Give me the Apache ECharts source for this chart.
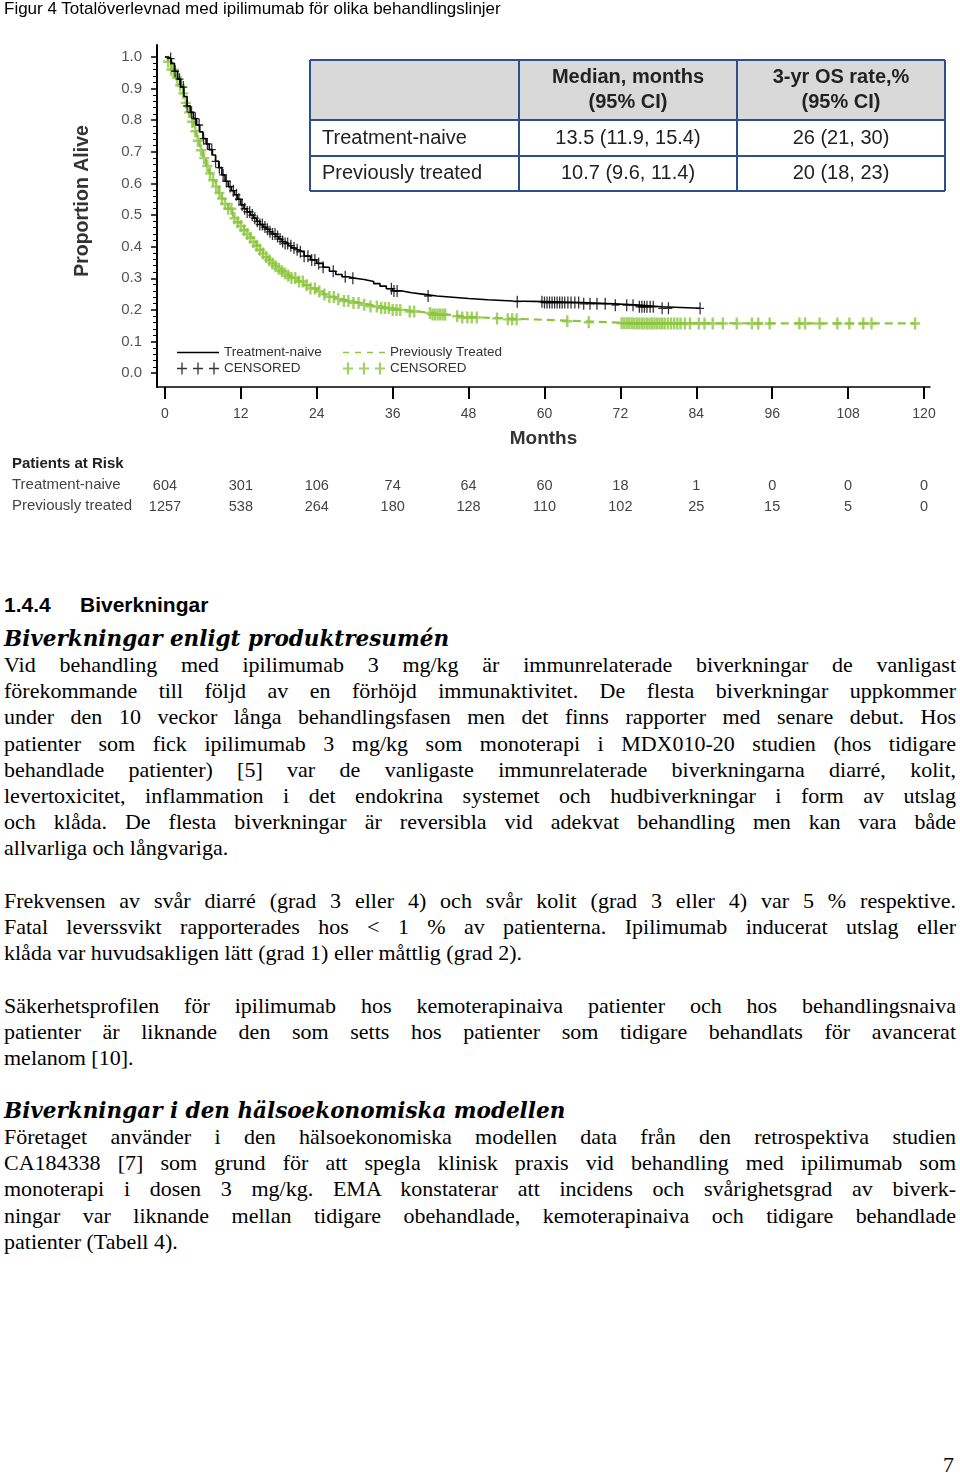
<!DOCTYPE html>
<html><head><meta charset="utf-8">
<script src="https://cdn.jsdelivr.net/npm/echarts@6/dist/echarts.min.js"></script>
<style>
html,body{margin:0;padding:0;background:#fff;}
body{width:960px;height:1476px;position:relative;overflow:hidden;}
#chart{position:absolute;left:0;top:0;width:960px;height:530px;}
.cap{position:absolute;left:4px;top:0px;font-family:'Liberation Sans',Arial,sans-serif;font-size:17px;line-height:18px;color:#000;}
.h3{position:absolute;left:4px;top:592px;font-family:'Liberation Sans',Arial,sans-serif;font-weight:bold;font-size:21px;line-height:26px;color:#000;}
.h3 span{display:inline-block;}
.body{position:absolute;left:4px;top:625.7px;width:952px;font-family:'Liberation Serif','Times New Roman',serif;font-size:22px;line-height:26.23px;color:#000;}
.body div{height:26.23px;}
.j{text-align:justify;text-align-last:justify;}
.hi{font-family:'DejaVu Serif',serif;font-weight:bold;font-style:italic;font-size:21.5px;}
.pg{position:absolute;left:943px;top:1452px;font-family:'Liberation Serif',serif;font-size:22px;line-height:26px;}
</style>
</head><body>
<div id="chart"></div>
<div class="cap">Figur 4 Totalöverlevnad med ipilimumab för olika behandlingslinjer</div>
<div class="h3"><span style="width:76px">1.4.4</span><span>Biverkningar</span></div>
<div class="body">
<div class="hi">Biverkningar enligt produktresumén</div>
<div class="j">Vid behandling med ipilimumab 3 mg/kg är immunrelaterade biverkningar de vanligast</div>
<div class="j">förekommande till följd av en förhöjd immunaktivitet. De flesta biverkningar uppkommer</div>
<div class="j">under den 10 veckor långa behandlingsfasen men det finns rapporter med senare debut. Hos</div>
<div class="j">patienter som fick ipilimumab 3 mg/kg som monoterapi i MDX010-20 studien (hos tidigare</div>
<div class="j">behandlade patienter) [5] var de vanligaste immunrelaterade biverkningarna diarré, kolit,</div>
<div class="j">levertoxicitet, inflammation i det endokrina systemet och hudbiverkningar i form av utslag</div>
<div class="j">och klåda. De flesta biverkningar är reversibla vid adekvat behandling men kan vara både</div>
<div>allvarliga och långvariga.</div>
<div></div>
<div class="j">Frekvensen av svår diarré (grad 3 eller 4) och svår kolit (grad 3 eller 4) var 5 % respektive.</div>
<div class="j">Fatal leverssvikt rapporterades hos &lt; 1 % av patienterna. Ipilimumab inducerat utslag eller</div>
<div>klåda var huvudsakligen lätt (grad 1) eller måttlig (grad 2).</div>
<div></div>
<div class="j">Säkerhetsprofilen för ipilimumab hos kemoterapinaiva patienter och hos behandlingsnaiva</div>
<div class="j">patienter är liknande den som setts hos patienter som tidigare behandlats för avancerat</div>
<div>melanom [10].</div>
<div></div>
<div class="hi">Biverkningar i den hälsoekonomiska modellen</div>
<div class="j">Företaget använder i den hälsoekonomiska modellen data från den retrospektiva studien</div>
<div class="j">CA184338 [7] som grund för att spegla klinisk praxis vid behandling med ipilimumab som</div>
<div class="j">monoterapi i dosen 3 mg/kg. EMA konstaterar att incidens och svårighetsgrad av biverk-</div>
<div class="j">ningar var liknande mellan tidigare obehandlade, kemoterapinaiva och tidigare behandlade</div>
<div>patienter (Tabell 4).</div>
</div>
<div class="pg">7</div>
<script>
// ---------- data ----------
const months = [0, 12, 24, 36, 48, 60, 72, 84, 96, 108, 120];
const yTicks = [0, 0.1, 0.2, 0.3, 0.4, 0.5, 0.6, 0.7, 0.8, 0.9, 1.0];
const riskNaive = [604, 301, 106, 74, 64, 60, 18, 1, 0, 0, 0];
const riskPrev = [1257, 538, 264, 180, 128, 110, 102, 25, 15, 5, 0];

const naiveTime = [0,0.5,1.0,1.5,2.0,2.5,3.0,3.5,4.0,4.5,5.0,5.5,6.0,6.5,7.0,7.5,8.0,8.5,9.0,9.5,10.0,10.5,11.0,11.5,12.0,12.5,13.0,13.5,14.0,14.5,15.0,15.5,16.0,16.5,17.0,17.5,18.0,18.5,19.0,19.5,20.0,20.5,21.0,22.0,23.0,24.0,25.0,26.0,27.0,28.0,29.0,30.0,31.5,33.0,34.0,35.0,36.0,37.5,39.0,41.0,43.0,45.5,48.0,51.0,55.0,60.0,66.0,71.0,75.0,78.5,84.6];
const naiveSurv = [1.0,0.995,0.98,0.955,0.93,0.905,0.875,0.845,0.825,0.805,0.785,0.763,0.742,0.725,0.707,0.69,0.67,0.65,0.627,0.607,0.59,0.577,0.564,0.55,0.532,0.52,0.51,0.5,0.49,0.48,0.47,0.462,0.455,0.447,0.44,0.432,0.424,0.416,0.41,0.403,0.396,0.39,0.384,0.37,0.358,0.347,0.335,0.322,0.312,0.305,0.3,0.296,0.29,0.283,0.275,0.267,0.26,0.254,0.249,0.244,0.24,0.236,0.232,0.228,0.226,0.223,0.219,0.215,0.21,0.205,0.205];

const prevTime = [0,0.5,1.0,1.5,2.0,2.5,3.0,3.5,4.0,4.5,5.0,5.5,6.0,6.5,7.0,7.5,8.0,8.5,9.0,9.5,10.0,10.7,11.0,11.5,12.0,12.5,13.0,13.5,14.0,14.5,15.0,15.5,16.0,16.5,17.0,17.5,18.0,18.5,19.0,19.5,20.0,21.0,22.0,23.0,24.0,25.0,26.0,27.0,28.0,29.5,31.0,32.5,34.0,36.0,38.0,40.0,42.0,44.5,47.0,50.0,54.0,58.0,62.0,66.0,70.0,74.0,118.6];
const prevSurv = [1.0,0.985,0.96,0.935,0.91,0.885,0.855,0.825,0.795,0.765,0.735,0.705,0.68,0.655,0.632,0.61,0.59,0.57,0.552,0.535,0.52,0.5,0.49,0.477,0.465,0.452,0.44,0.428,0.415,0.403,0.39,0.378,0.367,0.357,0.347,0.338,0.33,0.322,0.315,0.308,0.301,0.29,0.278,0.268,0.258,0.249,0.241,0.234,0.228,0.222,0.216,0.211,0.206,0.2,0.195,0.19,0.185,0.18,0.176,0.173,0.17,0.167,0.164,0.161,0.158,0.157,0.157];

const naiveCensor = [0.9,1.6,2.3,2.9,3.5,4.2,4.8,5.4,6.1,6.7,7.4,8.0,8.6,9.2,9.7,10.3,10.8,11.3,11.7,12.2,12.6,13.0,13.4,13.8,14.2,14.6,15.0,15.4,15.8,16.2,16.6,17.0,17.4,17.8,18.2,18.6,19.0,19.4,19.9,20.4,20.9,21.4,22.0,22.6,23.2,23.7,24.3,25.0,26.6,28.5,29.7,35.8,36.2,36.7,41.6,55.7,59.6,60.0,60.4,60.8,61.2,61.6,62.0,62.4,62.8,63.2,63.7,64.2,64.8,65.4,66.2,67.2,68.3,69.6,71.2,73.0,74.0,75.0,75.4,75.8,76.2,76.7,77.2,78.6,79.6,84.6];
const prevCensor = [0.5,1.0,1.4,1.9,2.4,2.9,3.3,3.8,4.3,4.8,5.2,5.7,6.2,6.7,7.1,7.6,8.1,8.6,9.0,9.5,10.0,10.5,11.0,11.5,12.0,12.5,13.0,13.5,14.0,14.5,15.0,15.5,16.0,16.5,17.0,17.5,18.0,18.5,19.0,19.5,20.0,20.6,21.2,21.8,22.4,23.0,23.7,24.4,25.2,26.0,26.7,27.4,28.3,29.0,29.8,30.6,31.5,32.5,33.5,34.2,34.8,35.4,36.0,36.6,37.2,38.7,39.4,41.9,42.3,42.7,43.1,43.5,43.9,44.3,46.2,47.0,47.8,48.5,49.3,52.5,54.2,54.9,55.6,63.6,67.0,72.2,72.6,73.0,73.4,73.8,74.2,74.6,75.0,75.4,75.8,76.2,76.6,77.0,77.4,77.8,78.2,78.6,79.0,79.5,80.0,80.5,81.0,81.5,82.2,83.0,84.4,85.3,86.6,88.2,90.4,92.8,93.8,95.6,100.3,101.2,103.5,106.3,108.2,110.4,111.7,118.6];

const tableHead = ['', 'Median, months\n(95% CI)', '3-yr OS rate,%\n(95% CI)'];
const tableRows = [
  ['Treatment-naive', '13.5 (11.9, 15.4)', '26 (21, 30)'],
  ['Previously treated', '10.7 (9.6, 11.4)', '20 (18, 23)']
];
const riskTitle = 'Patients at Risk';
const riskLabels = ['Treatment-naive', 'Previously treated'];

// ---------- helpers ----------
function pairs(t, s) { return t.map((v, i) => [v, s[i]]); }
function survAt(t, s, x) { let v = s[0]; for (let i = 0; i < t.length; i++) { if (t[i] <= x) v = s[i]; else break; } return v; }

const GREEN = '#8cc63f';
const plusBlack = 'path://M4.2,0H5.8V4.45H10V5.55H5.8V10H4.2V5.55H0V4.45H4.2Z';
const plusGreen = 'path://M3.8,0H6.2V4H10V6H6.2V10H3.8V6H0V4H3.8Z';
function triplePlus(th, hh) {
  let p = 'path://';
  [5, 21, 37].forEach(c => {
    const a = c - th / 2, b = c + th / 2;
    p += `M${a},0H${b}V${6 - hh / 2}H${c + 5}V${6 + hh / 2}H${b}V12H${a}V${6 + hh / 2}H${c - 5}V${6 - hh / 2}H${a}Z`;
  });
  return p;
}
const solidIcon = 'path://M0,0H42V1.3H0Z';
const dashIcon = 'path://M0,0H6V1.5H0Z M12,0H18V1.5H12Z M24,0H30V1.5H24Z M36,0H42V1.5H36Z';
const minorTicks = [];
for (let i = 0; i <= 50; i++) { if (i % 5 !== 0) minorTicks.push(i / 50); }

const XMIN = -1.26, XMAX = 120.95, YMIN = -0.044, YMAX = 1.038;
const SANS = "'Liberation Sans', Arial, sans-serif";

// table graphics
const tX = [310, 519, 737, 945], tY = [60, 120, 156, 191];
const BLUE = '#2f4f8c';
const tableG = [];
tableG.push({ type: 'rect', shape: { x: tX[0], y: tY[0], width: tX[3] - tX[0], height: tY[1] - tY[0] }, style: { fill: '#d9d9d9' }, z: 10 });
tY.forEach(y => tableG.push({ type: 'line', shape: { x1: tX[0], y1: y, x2: tX[3], y2: y }, style: { stroke: BLUE, lineWidth: 2 }, z: 11 }));
tX.forEach(x => tableG.push({ type: 'line', shape: { x1: x, y1: tY[0], x2: x, y2: tY[3] }, style: { stroke: BLUE, lineWidth: 2 }, z: 11 }));
tableHead.forEach((h, c) => {
  if (!h) return;
  tableG.push({ type: 'text', x: (tX[c] + tX[c + 1]) / 2, y: (tY[0] + tY[1]) / 2, z: 12,
    style: { text: h, align: 'center', verticalAlign: 'middle', font: `bold 20px ${SANS}`, fill: '#222', lineHeight: 25 } });
});
tableRows.forEach((row, r) => {
  row.forEach((cell, c) => {
    tableG.push({ type: 'text', x: c === 0 ? tX[0] + 12 : (tX[c] + tX[c + 1]) / 2, y: (tY[r + 1] + tY[r + 2]) / 2, z: 12,
      style: { text: cell, align: c === 0 ? 'left' : 'center', verticalAlign: 'middle', font: `20px ${SANS}`, fill: '#222' } });
  });
});

const chart = echarts.init(document.getElementById('chart'), null, { renderer: 'canvas' });
chart.setOption({
  animation: false,
  grid: { left: 157, top: 45, width: 773, height: 342 },
  xAxis: [
    { type: 'value', min: XMIN, max: XMAX,
      axisLine: { show: true, onZero: false, lineStyle: { color: '#000', width: 1.5 } },
      axisTick: { show: true, customValues: months, length: 12, lineStyle: { color: '#000', width: 2 } },
      axisLabel: { customValues: months, margin: 20, fontSize: 14, color: '#444', fontFamily: SANS },
      splitLine: { show: false },
      name: 'Months', nameLocation: 'middle', nameGap: 42,
      nameTextStyle: { fontWeight: 'bold', fontSize: 19, color: '#333', fontFamily: SANS } },
    { type: 'value', min: XMIN, max: XMAX, position: 'bottom', offset: 91,
      axisLine: { show: false, onZero: false }, axisTick: { show: false }, splitLine: { show: false },
      axisLabel: { customValues: months, margin: 0, fontSize: 14.5, color: '#444', fontFamily: SANS,
        formatter: v => String(riskNaive[months.indexOf(Math.round(v))]) } },
    { type: 'value', min: XMIN, max: XMAX, position: 'bottom', offset: 112,
      axisLine: { show: false, onZero: false }, axisTick: { show: false }, splitLine: { show: false },
      axisLabel: { customValues: months, margin: 0, fontSize: 14.5, color: '#444', fontFamily: SANS,
        formatter: v => String(riskPrev[months.indexOf(Math.round(v))]) } }
  ],
  yAxis: [
    { type: 'value', min: YMIN, max: YMAX,
      axisLine: { show: true, onZero: false, lineStyle: { color: '#000', width: 2 } },
      axisTick: { show: true, customValues: yTicks, length: 6, lineStyle: { color: '#000', width: 1.5 } },
      axisLabel: { customValues: yTicks, margin: 15, fontSize: 15, color: '#555', fontFamily: SANS, formatter: v => v.toFixed(1) },
      splitLine: { show: false } },
    { type: 'value', min: YMIN, max: YMAX, position: 'left',
      axisLine: { show: false, onZero: false },
      axisTick: { show: true, customValues: minorTicks, length: 4, lineStyle: { color: '#000', width: 1 } },
      axisLabel: { show: false }, splitLine: { show: false } }
  ],
  legend: [
    { left: 172, top: 340.5, orient: 'vertical', itemGap: 2, itemWidth: 42, itemHeight: 12, selectedMode: false,
      symbolKeepAspect: true,
      textStyle: { fontSize: 13.5, color: '#333', fontFamily: SANS },
      formatter: n => n.trim(),
      data: [ { name: 'Treatment-naive', icon: solidIcon, itemStyle: { color: '#000' } },
              { name: 'CENSORED', icon: triplePlus(1.3, 1.3) } ] },
    { left: 338, top: 340.5, orient: 'vertical', itemGap: 2, itemWidth: 42, itemHeight: 12, selectedMode: false,
      symbolKeepAspect: true,
      textStyle: { fontSize: 13.5, color: '#333', fontFamily: SANS },
      formatter: n => n.trim(),
      data: [ { name: 'Previously Treated', icon: dashIcon, itemStyle: { color: GREEN } },
              { name: 'CENSORED ', icon: triplePlus(2.2, 2) } ] }
  ],
  graphic: [
    { type: 'text', x: 83, y: 201, rotation: Math.PI / 2,
      style: { text: 'Proportion Alive', align: 'center', verticalAlign: 'middle', font: `bold 19.5px ${SANS}`, fill: '#333' } },
    { type: 'text', x: 12, y: 464, style: { text: riskTitle, verticalAlign: 'middle', font: `bold 15px ${SANS}`, fill: '#222' } },
    { type: 'text', x: 12, y: 485, style: { text: riskLabels[0], verticalAlign: 'middle', font: `15px ${SANS}`, fill: '#444' } },
    { type: 'text', x: 12, y: 506, style: { text: riskLabels[1], verticalAlign: 'middle', font: `15px ${SANS}`, fill: '#444' } }
  ].concat(tableG),
  series: [
    { name: 'Previously Treated', type: 'line', step: 'end', data: pairs(prevTime, prevSurv),
      symbol: 'none', silent: true, z: 2,
      itemStyle: { color: GREEN },
      lineStyle: { color: GREEN, width: 2.2, type: [8, 5] } },
    { name: 'CENSORED ', type: 'scatter', symbol: plusGreen, symbolSize: [10, 12], silent: true, z: 3,
      itemStyle: { color: GREEN },
      data: prevCensor.map(t => [t, survAt(prevTime, prevSurv, t)]) },
    { name: 'Treatment-naive', type: 'line', step: 'end', data: pairs(naiveTime, naiveSurv),
      symbol: 'none', silent: true, z: 4,
      itemStyle: { color: '#000' },
      lineStyle: { color: '#000', width: 1.6 } },
    { name: 'CENSORED', type: 'scatter', symbol: plusBlack, symbolSize: [8, 12], silent: true, z: 5,
      itemStyle: { color: '#000' },
      data: naiveCensor.map(t => [t, survAt(naiveTime, naiveSurv, t)]) }
  ]
});
</script>
</body></html>
